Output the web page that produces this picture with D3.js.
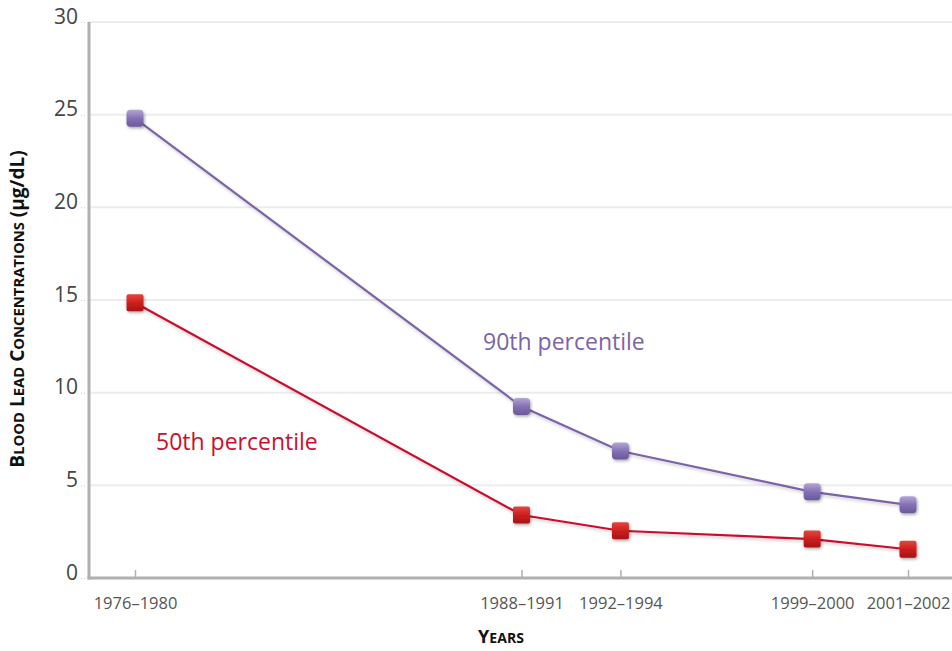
<!DOCTYPE html>
<html><head><meta charset="utf-8">
<script src="https://cdn.jsdelivr.net/npm/d3@7"></script>
<style>body{margin:0;background:#fff;} svg{display:block;}</style>
</head><body>
<svg id="chart" width="952" height="651"></svg>
<script>
const categories = ["1976–1980","1988–1991","1992–1994","1999–2000","2001–2002"];
const periodPos = [1978, 1990.5, 1993.7, 1999.9, 2003];
const p90 = [24.8, 9.25, 6.85, 4.65, 3.95];
const p50 = [14.85, 3.4, 2.55, 2.1, 1.55];
const yTicks = [0,5,10,15,20,25,30];

(function(){
const svg = d3.select("#chart");
const FONT = "'Open Sans', sans-serif";
const mLeft = 89, mRight = 952, mTop = 22, mBottom = 578;
const x = d3.scaleLinear().domain([1978, 2003]).range([135, 908]);
const y = d3.scaleLinear().domain([0, 30]).range([mBottom, mTop]);

const defs = svg.append("defs");
function grad(id, light, mid, dark){
  const g = defs.append("linearGradient").attr("id", id).attr("x1",0).attr("y1",0).attr("x2",0).attr("y2",1);
  g.append("stop").attr("offset","0%").attr("stop-color",light);
  g.append("stop").attr("offset","50%").attr("stop-color",mid);
  g.append("stop").attr("offset","100%").attr("stop-color",dark);
}
grad("gp","#b3a6d6","#8570b4","#6a579a");
grad("gr","#e2473c","#cc1f1f","#a81414");
const f = defs.append("filter").attr("id","sh").attr("x","-50%").attr("y","-50%").attr("width","200%").attr("height","200%");
f.append("feDropShadow").attr("dx",1).attr("dy",1.5).attr("stdDeviation",1.5).attr("flood-color","#000").attr("flood-opacity",0.35);
const fl = defs.append("filter").attr("id","shl").attr("x","-10%").attr("y","-10%").attr("width","120%").attr("height","120%");
fl.append("feDropShadow").attr("dx",1).attr("dy",2).attr("stdDeviation",1.5).attr("flood-color","#000").attr("flood-opacity",0.2);

// gridlines
svg.append("g").selectAll("line").data(yTicks.filter(d=>d>0)).join("line")
  .attr("x1", mLeft).attr("x2", mRight).attr("y1", d=>y(d)).attr("y2", d=>y(d))
  .attr("stroke","#ececec").attr("stroke-width",2);

// y axis
const yAxis = d3.axisLeft(y).tickValues(yTicks).tickSize(0).tickPadding(11);
const gy = svg.append("g").attr("transform",`translate(${mLeft},0)`).call(yAxis);
gy.select(".domain").remove();
gy.selectAll("text").attr("font-family",FONT).attr("font-size",21).attr("fill","#444").attr("dy","0.05em");
gy.selectAll(".tick").append("line").attr("x1",-8).attr("x2",-2).attr("stroke","#ccc").attr("stroke-dasharray","1,2");
svg.append("line").attr("x1",mLeft).attr("x2",mLeft).attr("y1",mTop).attr("y2",mBottom+1.5).attr("stroke","#b0b0b0").attr("stroke-width",3);

// x axis
const xAxis = d3.axisBottom(x).tickValues(periodPos).tickFormat((d,i)=>categories[i]).tickSize(0).tickPadding(19);
const gx = svg.append("g").attr("transform",`translate(0,${mBottom})`).call(xAxis);
gx.select(".domain").remove();
gx.selectAll("text").attr("font-family",FONT).attr("font-size",16.5).attr("fill","#555");
gx.selectAll(".tick").append("line").attr("y1",0).attr("y2",-8).attr("stroke","#b0b0b0").attr("stroke-width",1.5);
svg.append("line").attr("x1",mLeft-1.5).attr("x2",mRight).attr("y1",mBottom).attr("y2",mBottom).attr("stroke","#b0b0b0").attr("stroke-width",3);

// lines
const line = d3.line().x((d,i)=>x(periodPos[i])).y(d=>y(d));
svg.append("path").datum(p90).attr("d",line).attr("fill","none").attr("stroke","#7b64a8").attr("stroke-width",2.2).attr("filter","url(#shl)");
svg.append("path").datum(p50).attr("d",line).attr("fill","none").attr("stroke","#c8102e").attr("stroke-width",2.2).attr("filter","url(#shl)");

// markers
const s = 17;
svg.append("g").selectAll("rect").data(p90).join("rect")
  .attr("x",(d,i)=>x(periodPos[i])-s/2).attr("y",d=>y(d)-s/2).attr("width",s).attr("height",s)
  .attr("rx",4).attr("fill","url(#gp)").attr("filter","url(#sh)");
svg.append("g").selectAll("rect").data(p50).join("rect")
  .attr("x",(d,i)=>x(periodPos[i])-s/2).attr("y",d=>y(d)-s/2).attr("width",s).attr("height",s)
  .attr("rx",2).attr("fill","url(#gr)").attr("filter","url(#sh)");

// series labels
svg.append("text").attr("x",483).attr("y",350).text("90th percentile")
  .attr("font-family",FONT).attr("font-size",23).attr("fill","#7b64a8");
svg.append("text").attr("x",156).attr("y",450).text("50th percentile")
  .attr("font-family",FONT).attr("font-size",23).attr("fill","#c8102e");

// small caps helper
function smallCaps(textSel, str, size){
  str.split(" ").forEach((w, wi) => {
    if (wi > 0) textSel.append("tspan").attr("font-size", size).text(" ");
    textSel.append("tspan").attr("font-size", size).text(w[0].toUpperCase());
    if (w.length > 1) textSel.append("tspan").attr("font-size", size*0.78).text(w.slice(1).toUpperCase());
  });
}
// axis titles
const yt = svg.append("text").attr("transform","translate(24,309) rotate(-90)").attr("text-anchor","middle")
  .attr("font-family",FONT).attr("font-weight","bold").attr("fill","#111");
smallCaps(yt, "Blood Lead Concentrations", 19);
yt.append("tspan").attr("font-size",19).text(" (µg/dL)");
const xt = svg.append("text").attr("x",501).attr("y",643).attr("text-anchor","middle")
  .attr("font-family",FONT).attr("font-weight","bold").attr("fill","#111");
smallCaps(xt, "Years", 18);
})();
</script>
</body></html>
